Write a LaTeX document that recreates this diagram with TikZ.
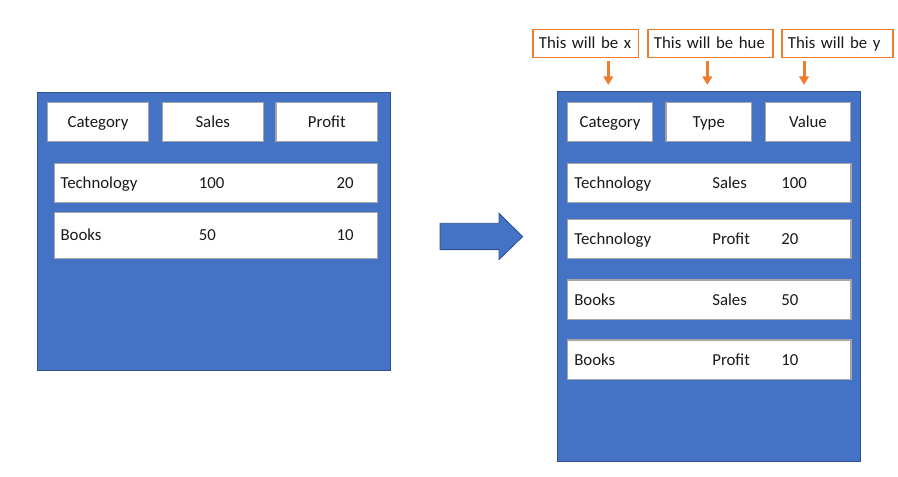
\documentclass[tikz,border=0pt]{standalone}
\usepackage{fontspec}
\setmainfont{Carlito}
\usetikzlibrary{arrows.meta}
\definecolor{panelblue}{HTML}{4472C4}
\definecolor{paneledge}{HTML}{2F528F}
\definecolor{boxedge}{HTML}{A5A5A5}
\definecolor{noteorange}{HTML}{ED7D31}

\begin{document}
\begin{tikzpicture}[x=1pt,y=-1pt,
    every node/.style={font=\fontsize{16.8}{20}\selectfont, text=black!90},
    panel/.style={fill=panelblue, draw=paneledge, line width=1pt, inner sep=0pt},
    header/.style={draw=boxedge, fill=white, line width=1.3pt,
      minimum height=39pt, text height=10.8pt, text depth=0pt, inner sep=0pt},
    row/.style={draw=boxedge, fill=white, line width=1.3pt, inner sep=0pt},
    cell/.style={anchor=west, text height=10.8pt, text depth=0pt, inner sep=0pt},
    note/.style={draw=noteorange, line width=1.3pt, anchor=west, minimum height=28pt,
      text height=10.8pt, text depth=0pt, inner xsep=6pt, inner ysep=0pt, text width=#1},
    down/.style={draw=noteorange, line width=3pt, -{Triangle[width=9.5pt,length=8.5pt]}},
  ]
  \useasboundingbox (0,0) rectangle (898,477);

  % wide table
  \node[panel, minimum width=352.7pt, minimum height=278.7pt] (wide) at (214.3,231.6) {};
  \node[header, minimum width=101.4pt] (wcat) at (98,121.8) {Category};
  \node[header, minimum width=101pt] (wsales) at (212.8,121.8) {Sales};
  \node[header, minimum width=101.7pt] (wprofit) at (326.8,121.8) {Profit};
  \node[row, minimum width=323.4pt, minimum height=39pt] (w1) at (216,182.8) {};
  \node[row, minimum width=323.4pt, minimum height=46pt] (w2) at (216,235.3) {};
  \node[cell] (w1a) at ([xshift=6.7pt]w1.west) {Technology};
  \node[cell] (w1b) at ([xshift=145pt]w1.west) {100};
  \node[cell] (w1c) at ([xshift=282.7pt]w1.west) {20};
  \node[cell] (w2a) at ([xshift=6.7pt]w2.west) {Books};
  \node[cell] (w2b) at ([xshift=145pt]w2.west) {50};
  \node[cell] (w2c) at ([xshift=282.7pt]w2.west) {10};

  % block arrow
  \coordinate (tail) at (440,236.6);
  \draw[fill=panelblue, draw=paneledge, line width=0.8pt]
    (tail) ++(0,-13.3) -- ++(59,0) -- ++(0,-10) -- (522.7,236.6)
    -- (499,259.6) -- ++(0,-10) -- ++(-59,0) -- cycle;

  % long table
  \node[panel, minimum width=303.4pt, minimum height=369.7pt] (long) at (709,276.8) {};
  \node[header, minimum width=85.4pt] (lcat) at (610,121.8) {Category};
  \node[header, minimum width=85.7pt] (ltype) at (708.8,121.8) {Type};
  \node[header, minimum width=85.4pt] (lval) at (808,121.8) {Value};
  \foreach \i/\y/\c/\t/\v in {1/183/Technology/Sales/100, 2/239/Technology/Profit/20,
      3/299.7/Books/Sales/50, 4/359.7/Books/Profit/10} {
    \node[row, minimum width=283.2pt, minimum height=39.4pt] (l\i) at (709.4,\y) {};
    \node[cell] (l\i a) at ([xshift=7pt]l\i.west) {\c};
    \node[cell] (l\i b) at ([xshift=145pt]l\i.west) {\t};
    \node[cell] (l\i c) at ([xshift=214pt]l\i.west) {\v};
  }

  \node[note=93.4pt] (nx) at (532.3,43.3) {This will be x};
  \node[note=113pt] (nhue) at (647.3,43.3) {This will be hue};
  \node[note=99pt] (ny) at (781.3,43.3) {This will be y};
  \draw[down] ([xshift=-1.7pt]lcat.north |- nx.south) ++(0,3.4) -- ++(0,23.6);
  \draw[down] ([xshift=-1.5pt]ltype.north |- nhue.south) ++(0,3.4) -- ++(0,23.6);
  \draw[down] ([xshift=-4pt]lval.north |- ny.south) ++(0,3.4) -- ++(0,23.6);
\end{tikzpicture}
\end{document}
